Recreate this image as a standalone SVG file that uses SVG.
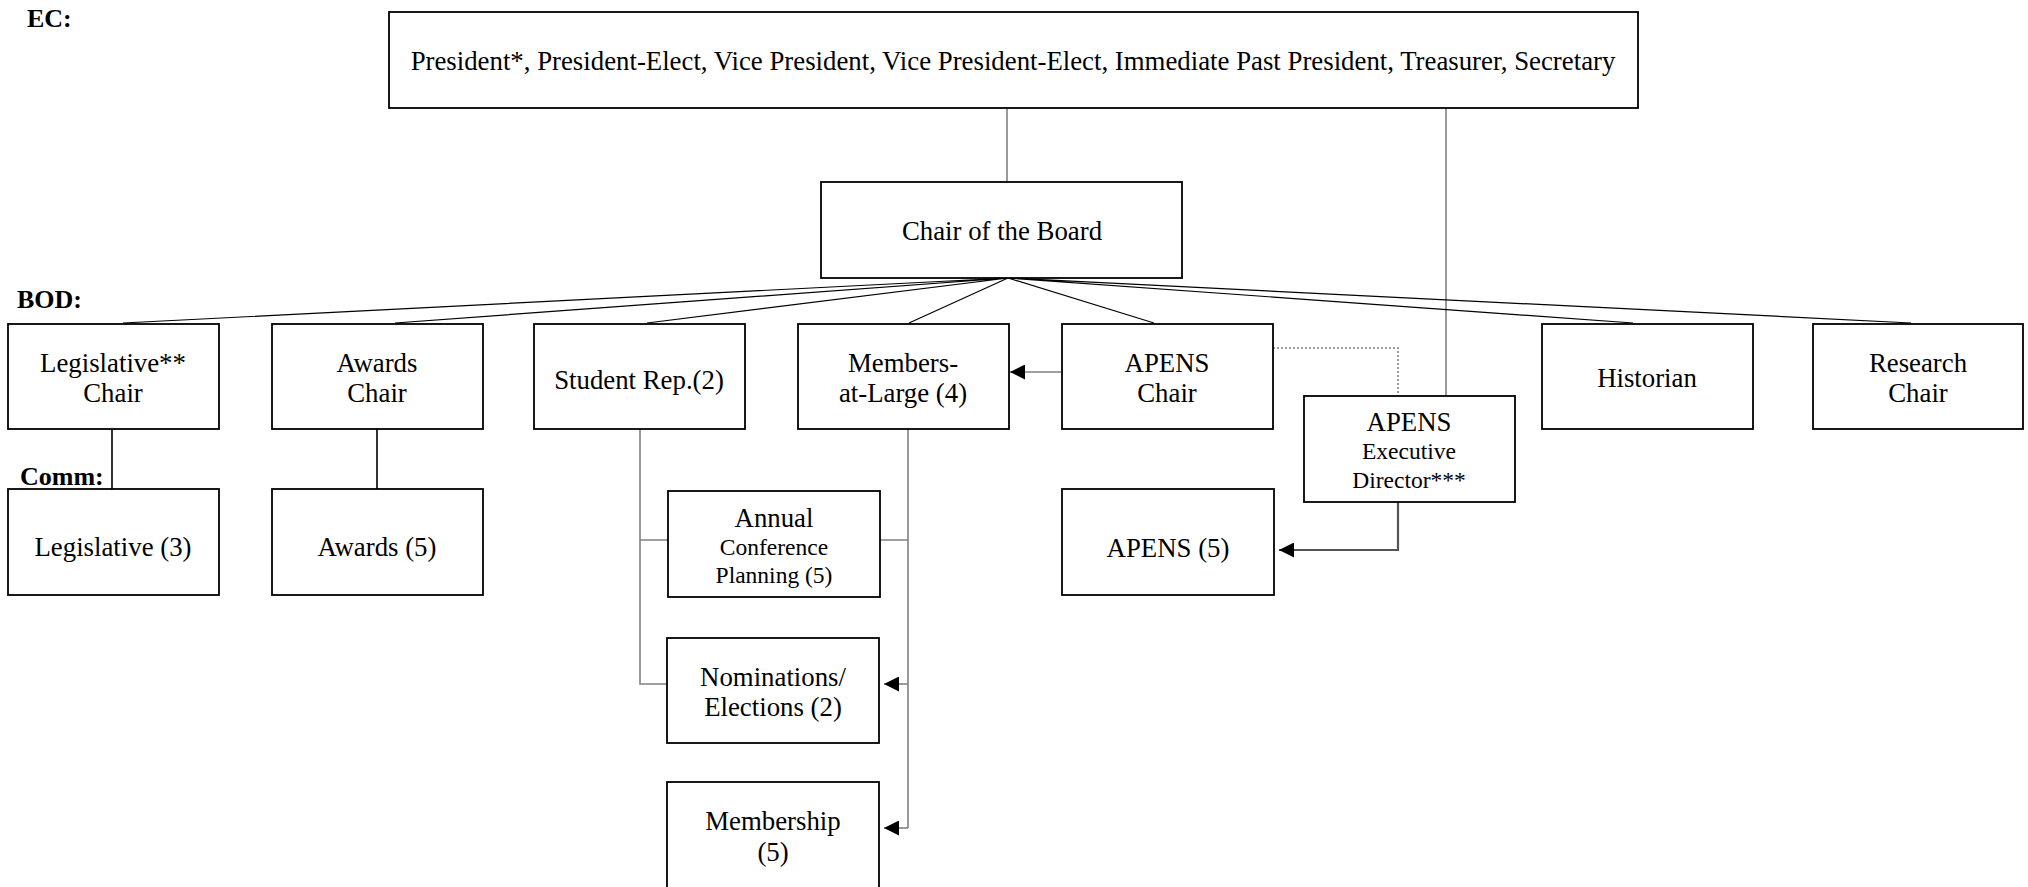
<svg xmlns="http://www.w3.org/2000/svg" width="2028" height="887" viewBox="0 0 2028 887">
<style>
.box{fill:#fff;stroke:#000;stroke-width:1.8}
.t{font-family:"Liberation Serif","Times New Roman",serif;font-size:26.8px;fill:#000;text-anchor:middle}
.s{font-size:23.5px}
.lbl{font-family:"Liberation Serif","Times New Roman",serif;font-size:26px;font-weight:bold;fill:#000}
.fan{stroke:#000;stroke-width:1.2;fill:none}
.blk{stroke:#000;stroke-width:1.6;fill:none}
.gry{stroke:#808080;stroke-width:1.6;fill:none}
.dot{stroke:#808080;stroke-width:1.6;fill:none;stroke-dasharray:2 2}
.dk{stroke:#555;stroke-width:2.2;fill:none}
</style>
<defs>
<marker id="ah" viewBox="0 0 10 10" refX="10" refY="5" markerWidth="15" markerHeight="15" markerUnits="userSpaceOnUse" orient="auto">
<path d="M0,0 L10,5 L0,10 z" fill="#000"/>
</marker>
</defs>
<rect width="2028" height="887" fill="#fff"/>
<g id="labels">
<text class="lbl" x="27" y="27">EC:</text>
<text class="lbl" x="17" y="308">BOD:</text>
<text class="lbl" x="20" y="485">Comm:</text>
</g>
<g id="connectors">
<path class="gry" d="M1007,108 V182"/>
<path class="gry" d="M1446,108 V396"/>
<path class="fan" d="M1008,278 L123,323 M1008,278 L395,323 M1008,278 L647,323 M1008,278 L909,323 M1008,278 L1154,323 M1008,278 L1633,323 M1008,278 L1911,323"/>
<path class="blk" d="M112,429 V489 M377,429 V489"/>
<path class="gry" d="M640,429 V684 H667 M640,540 H668"/>
<path class="gry" d="M908,429 V828 M880,540 H908"/>
<path class="gry" d="M908,684 H884" marker-end="url(#ah)"/>
<path class="gry" d="M908,828 H884" marker-end="url(#ah)"/>
<path class="gry" d="M1061,372 H1010" marker-end="url(#ah)"/>
<path class="dot" d="M1273,348 H1398 V396"/>
<path class="dk" d="M1398,502 V550 H1279" marker-end="url(#ah)"/>
</g>
<g id="ec"><rect class="box" x="389" y="12" width="1249" height="96"/><text class="t" x="1013" y="70">President*, President-Elect, Vice President, Vice President-Elect, Immediate Past President, Treasurer, Secretary</text></g>
<g id="chair"><rect class="box" x="821" y="182" width="361" height="96"/><text class="t" x="1002" y="240">Chair of the Board</text></g>
<g id="legislative-chair"><rect class="box" x="8" y="324" width="211" height="105"/><text class="t" x="113" y="372">Legislative**</text><text class="t" x="113" y="402">Chair</text></g>
<g id="awards-chair"><rect class="box" x="272" y="324" width="211" height="105"/><text class="t" x="377" y="372">Awards</text><text class="t" x="377" y="402">Chair</text></g>
<g id="student-rep"><rect class="box" x="534" y="324" width="211" height="105"/><text class="t" x="639" y="389">Student Rep.(2)</text></g>
<g id="members-at-large"><rect class="box" x="798" y="324" width="211" height="105"/><text class="t" x="903" y="372">Members-</text><text class="t" x="903" y="402">at-Large (4)</text></g>
<g id="apens-chair"><rect class="box" x="1062" y="324" width="211" height="105"/><text class="t" x="1167" y="372">APENS</text><text class="t" x="1167" y="402">Chair</text></g>
<g id="apens-exec"><rect class="box" x="1304" y="396" width="211" height="106"/><text class="t" x="1409" y="431">APENS</text><text class="t s" x="1409" y="459">Executive</text><text class="t s" x="1409" y="488">Director***</text></g>
<g id="historian"><rect class="box" x="1542" y="324" width="211" height="105"/><text class="t" x="1647" y="387">Historian</text></g>
<g id="research-chair"><rect class="box" x="1813" y="324" width="210" height="105"/><text class="t" x="1918" y="372">Research</text><text class="t" x="1918" y="402">Chair</text></g>
<g id="legislative-comm"><rect class="box" x="8" y="489" width="211" height="106"/><text class="t" x="113" y="556">Legislative (3)</text></g>
<g id="awards-comm"><rect class="box" x="272" y="489" width="211" height="106"/><text class="t" x="377" y="556">Awards (5)</text></g>
<g id="annual-conference"><rect class="box" x="668" y="491" width="212" height="106"/><text class="t" x="774" y="527">Annual</text><text class="t s" x="774" y="555">Conference</text><text class="t s" x="774" y="583">Planning (5)</text></g>
<g id="nominations"><rect class="box" x="667" y="638" width="212" height="105"/><text class="t" x="773" y="686">Nominations/</text><text class="t" x="773" y="716">Elections (2)</text></g>
<g id="membership"><rect class="box" x="667" y="782" width="212" height="110"/><text class="t" x="773" y="830">Membership</text><text class="t" x="773" y="861">(5)</text></g>
<g id="apens-comm"><rect class="box" x="1062" y="489" width="212" height="106"/><text class="t" x="1168" y="557">APENS (5)</text></g>
</svg>
